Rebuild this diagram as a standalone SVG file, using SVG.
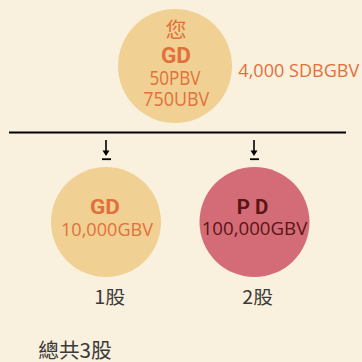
<svg xmlns="http://www.w3.org/2000/svg" width="362" height="362" viewBox="0 0 362 362">
<style>
.lat{font-family:"Open Sans","Noto Sans",sans-serif}
.b{font-family:Roboto,"Liberation Sans",sans-serif;font-weight:bold}
.cjk{font-family:"Noto Sans CJK TC","Noto Sans CJK SC",sans-serif}
.or{fill:#E2703A}
.dr{fill:#5B1515}
.gr{fill:#3A3A3A}
.tan{fill:#F0D193}
</style>
<rect width="362" height="362" fill="#F9F0DD"/>
<g id="you">
<circle class="tan" cx="175" cy="66" r="57"/>
<text class="cjk or" x="176" y="36.5" font-size="21" text-anchor="middle">您</text>
<text class="b or" x="176" y="63" font-size="22" text-anchor="middle" textLength="30" lengthAdjust="spacingAndGlyphs">GD</text>
<text class="lat or" x="175" y="85" font-size="20.5" text-anchor="middle" textLength="51" lengthAdjust="spacingAndGlyphs">50PBV</text>
<text class="lat or" x="176.3" y="106" font-size="20.5" text-anchor="middle" textLength="66" lengthAdjust="spacingAndGlyphs">750UBV</text>
</g>
<g id="amount">
<text class="lat or" x="238.3" y="77" font-size="18.5" textLength="121" lengthAdjust="spacingAndGlyphs">4,000 SDBGBV</text>
</g>
<g id="connectors" stroke="#000" fill="none">
<line x1="9" y1="132.5" x2="346" y2="132.5" stroke-width="2"/>
<line x1="106" y1="140" x2="106" y2="152" stroke-width="1.6"/>
<path d="M102.5 150.5 L106 156 L109.5 150.5 Z" fill="#000" stroke="none"/>
<line x1="102" y1="159.2" x2="111" y2="159.2" stroke-width="1.8"/>
<line x1="254" y1="140" x2="254" y2="152" stroke-width="1.6"/>
<path d="M250.5 150.5 L254 156 L257.5 150.5 Z" fill="#000" stroke="none"/>
<line x1="250" y1="159.2" x2="259" y2="159.2" stroke-width="1.8"/>
</g>
<g id="gd">
<circle class="tan" cx="106" cy="222" r="55"/>
<text class="b or" x="105" y="214" font-size="20.5" text-anchor="middle" textLength="30" lengthAdjust="spacingAndGlyphs">GD</text>
<text class="lat or" x="107" y="236" font-size="19" text-anchor="middle" textLength="92" lengthAdjust="spacingAndGlyphs">10,000GBV</text>
<text class="cjk gr" x="94.3" y="304" font-size="18.5" textLength="31" lengthAdjust="spacingAndGlyphs">1股</text>
</g>
<g id="pd">
<circle cx="254.5" cy="222" r="55" fill="#D46C77"/>
<text class="b dr" x="252.5" y="214" font-size="20.5" text-anchor="middle" textLength="31.7" lengthAdjust="spacing">PD</text>
<text class="lat dr" x="254.5" y="235" font-size="19" text-anchor="middle" textLength="105.6" lengthAdjust="spacingAndGlyphs">100,000GBV</text>
<text class="cjk gr" x="242.3" y="304" font-size="18.5" textLength="30.5" lengthAdjust="spacingAndGlyphs">2股</text>
</g>
<g id="total">
<text class="cjk gr" x="38.3" y="358" font-size="20.5" textLength="73.4" lengthAdjust="spacingAndGlyphs">總共3股</text>
</g>
</svg>
